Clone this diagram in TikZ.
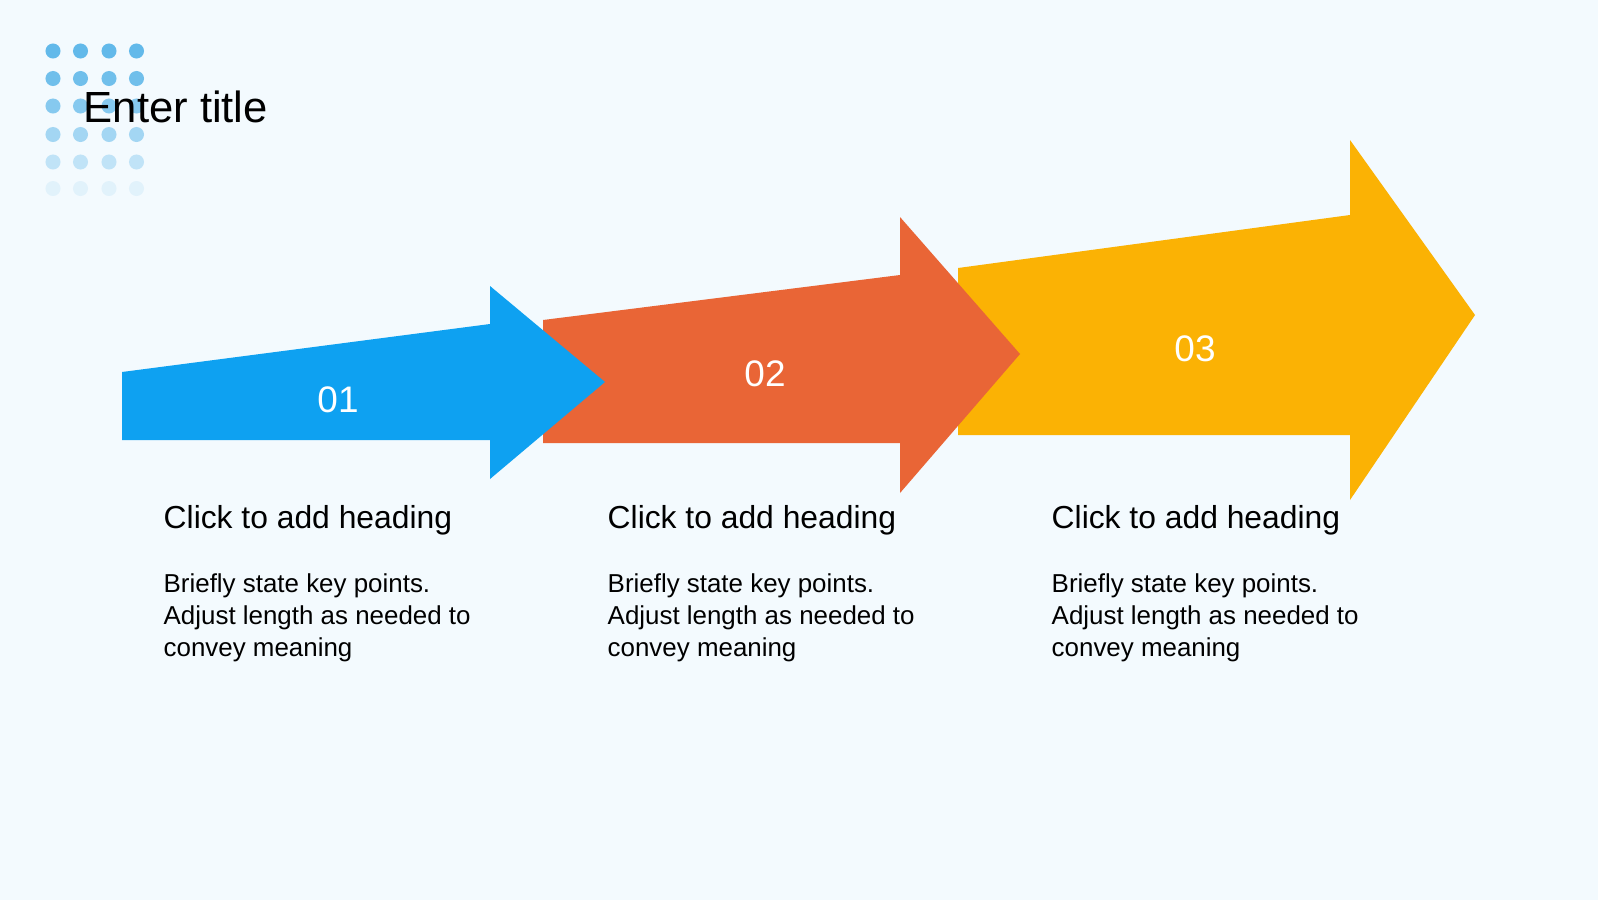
\documentclass[tikz,border=0pt]{standalone}
\usepackage{fontspec}
\setmainfont{Liberation Sans}
\usetikzlibrary{positioning}
\definecolor{Slide_Bg}{HTML}{F3FAFE}
\definecolor{Step_Blue}{HTML}{0EA1F1}
\definecolor{Step_Orange}{HTML}{E96536}
\definecolor{Step_Yellow}{HTML}{FBB204}
\definecolor{Dot_Blue}{HTML}{62B9EA}

\begin{document}
\begin{tikzpicture}[x=0.01cm, y=-0.01cm,
    num/.style={text=white, inner sep=0pt, font=\fontsize{10.5}{12}\selectfont},
    heading/.style={anchor=west, inner sep=0pt, font=\fontsize{9.05}{11}\selectfont},
    body/.style={anchor=north west, inner sep=0pt, align=left, font=\fontsize{7.37}{9.1}\selectfont}]

    % === Background and frame ===
    \fill[Slide_Bg] (0,0) rectangle (1598,900);
    \useasboundingbox (0,0) rectangle (1598,900);

    % === Dot grid behind the title ===
    \foreach \row/\op in {51/1, 78.5/0.9, 106/0.75, 134.5/0.55, 162/0.35, 188.5/0.12}
        \foreach \col in {53,80.5,109,136.5}
            \fill[Dot_Blue, opacity=\op] (\col,\row) circle (0.075cm);
    \node[anchor=west, inner sep=0pt, font=\fontsize{12.4}{14}\selectfont] (title) at (83,107) {Enter title};

    % === Arrow 03 (yellow) - drawn first, sits under the others ===
    \fill[Step_Yellow] (958,268) -- (1350,215) -- (1350,140) -- (1475,315) -- (1350,500) -- (1350,435) -- (958,435) -- cycle;
    \node[num] (num3) at (1195,349) {03};

    % === Arrow 02 (orange) ===
    \fill[Step_Orange] (543,320) -- (900,275) -- (900,217) -- (1020,354) -- (900,493) -- (900,443) -- (543,443) -- cycle;
    \node[num] (num2) at (765,374) {02};

    % === Arrow 01 (blue) ===
    \fill[Step_Blue] (122,372) -- (490,324) -- (490,286) -- (605,382) -- (490,479) -- (490,440) -- (122,440) -- cycle;
    \node[num] (num1) at (338,400) {01};

    % === Text columns under the arrows ===
    \node[heading] (head1) at (163,520) {Click to add heading};
    \node[body] (body1) at (163,573) {Briefly state key points.\\Adjust length as needed to\\convey meaning};

    \node[heading] (head2) at (607,520) {Click to add heading};
    \node[body] (body2) at (607,573) {Briefly state key points.\\Adjust length as needed to\\convey meaning};

    \node[heading] (head3) at (1051,520) {Click to add heading};
    \node[body] (body3) at (1051,573) {Briefly state key points.\\Adjust length as needed to\\convey meaning};

\end{tikzpicture}
\end{document}
